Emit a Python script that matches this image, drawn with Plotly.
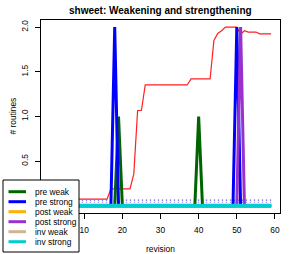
import plotly.graph_objects as go

# ---------------- data ----------------
revisions = list(range(1, 60))

# red reference line (one value per revision 1..59)
red_line = [0.075] * 16 + [0.19] * 6 + [0.355, 1.067, 1.067] + [1.353] * 12 + \
           [1.42] * 6 + [1.85, 1.93, 1.96] + [2.0] * 4 + [1.92, 1.96] + [1.945] * 3 + [1.925] * 4

series_names = ["pre weak", "pre strong", "post weak", "post strong", "inv weak", "inv strong"]
series_colors = ["#006400", "#0000FF", "#FFB000", "#9932CC", "#D2B48C", "#00CED1"]

# non-zero revisions per series (all other revisions are 0)
pre_weak_revs, pre_weak_vals = [19, 40], [1, 1]
pre_strong_revs, pre_strong_vals = [18, 50], [2, 2]
post_weak_revs, post_weak_vals = [], []
post_strong_revs, post_strong_vals = [51], [2]
inv_weak_revs, inv_weak_vals = [], []
inv_strong_revs, inv_strong_vals = [], []

dotted_levels = [0.064, 0.04]
dotted_colors = ["#5a5aff", "#b79be6"]

x_ticks = [10, 20, 30, 40, 50, 60]
y_ticks = [0.5, 1.0, 1.5, 2.0]

title = "shweet: Weakening and strengthening"
x_title = "revision"
y_title = "# routines"


def full_series(revs, vals):
    out = [0] * len(revisions)
    for r, v in zip(revs, vals):
        out[revisions.index(r)] = v
    return out


series_values = [
    full_series(pre_weak_revs, pre_weak_vals),
    full_series(pre_strong_revs, pre_strong_vals),
    full_series(post_weak_revs, post_weak_vals),
    full_series(post_strong_revs, post_strong_vals),
    full_series(inv_weak_revs, inv_weak_vals),
    full_series(inv_strong_revs, inv_strong_vals),
]

# ---------------- layout geometry ----------------
W, H = 294, 254
L, R, T, B = 41, 14, 20, 41
pw, ph = W - L - R, H - T - B


def px(x):
    return (x - L) / pw


def py(y):
    return (H - B - y) / ph


FONT = "Liberation Sans, Arial, Helvetica, sans-serif"

fig = go.Figure()

fig.add_trace(go.Scatter(x=revisions, y=red_line, mode="lines",
                         line=dict(color="#ff2020", width=1.2), showlegend=False))

for lvl, col in zip(dotted_levels, dotted_colors):
    fig.add_trace(go.Scatter(x=[revisions[0], revisions[-1]], y=[lvl, lvl], mode="lines",
                             line=dict(color=col, width=1.3, dash="1.3px,2.7px"), showlegend=False))

widths = [3, 3, 3, 3, 3, 4]
for name, col, vals, w in zip(series_names, series_colors, series_values, widths):
    fig.add_trace(go.Scatter(x=revisions, y=vals, mode="lines", name=name,
                             line=dict(color=col, width=w), showlegend=False))

# ---------------- manual legend (R style) ----------------
shapes = [dict(type="rect", xref="paper", yref="paper",
               x0=px(3), x1=px(79), y0=py(252), y1=py(180),
               fillcolor="white", line=dict(color="black", width=1), layer="above")]
annotations = []
item_y = [191.7, 201.7, 211.7, 221.7, 231.7, 241.7]
for name, col, yy in zip(series_names, series_colors, item_y):
    shapes.append(dict(type="line", xref="paper", yref="paper",
                       x0=px(8.5), x1=px(26), y0=py(yy), y1=py(yy),
                       line=dict(color=col, width=3), layer="above"))
    annotations.append(dict(text=name, xref="paper", yref="paper", x=px(32.5), y=py(yy),
                            xanchor="left", yanchor="middle", showarrow=False,
                            font=dict(size=8.4, color="black", family=FONT)))

annotations.append(dict(text="<b>" + title + "</b>", xref="paper", yref="paper",
                        x=0.5, y=py(10.7), xanchor="center", yanchor="middle", showarrow=False,
                        font=dict(size=10, color="black", family=FONT)))
annotations.append(dict(text=x_title, xref="paper", yref="paper",
                        x=0.5, y=py(248.5), xanchor="center", yanchor="middle", showarrow=False,
                        font=dict(size=8.4, color="black", family=FONT)))
annotations.append(dict(text=y_title, xref="paper", yref="paper", textangle=-90,
                        x=px(12), y=py(116.5), xanchor="center", yanchor="middle", showarrow=False,
                        font=dict(size=8.4, color="black", family=FONT)))

axis_common = dict(showgrid=False, zeroline=False, showline=True, mirror=True,
                   linecolor="black", linewidth=1, ticks="outside", ticklen=5,
                   tickcolor="black", tickwidth=1,
                   tickfont=dict(size=8.4, color="black", family=FONT))

fig.update_layout(
    width=W, height=H,
    margin=dict(l=L, r=R, t=T, b=B),
    paper_bgcolor="white", plot_bgcolor="white",
    showlegend=False, hovermode=False,
    shapes=shapes, annotations=annotations,
    xaxis=dict(range=[-1.32, 61.32], tickvals=x_ticks, ticklabelstandoff=4, **axis_common),
    yaxis=dict(range=[-0.08, 2.08], tickvals=y_ticks, tickformat=".1f", tickangle=-90,
               ticklabelstandoff=4, **axis_common),
)

fig.write_html("out.html",
               config={"displayModeBar": False, "staticPlot": True},
               post_script="document.body.style.margin='0';document.body.style.padding='0';"
                           "document.documentElement.style.overflow='hidden';")
